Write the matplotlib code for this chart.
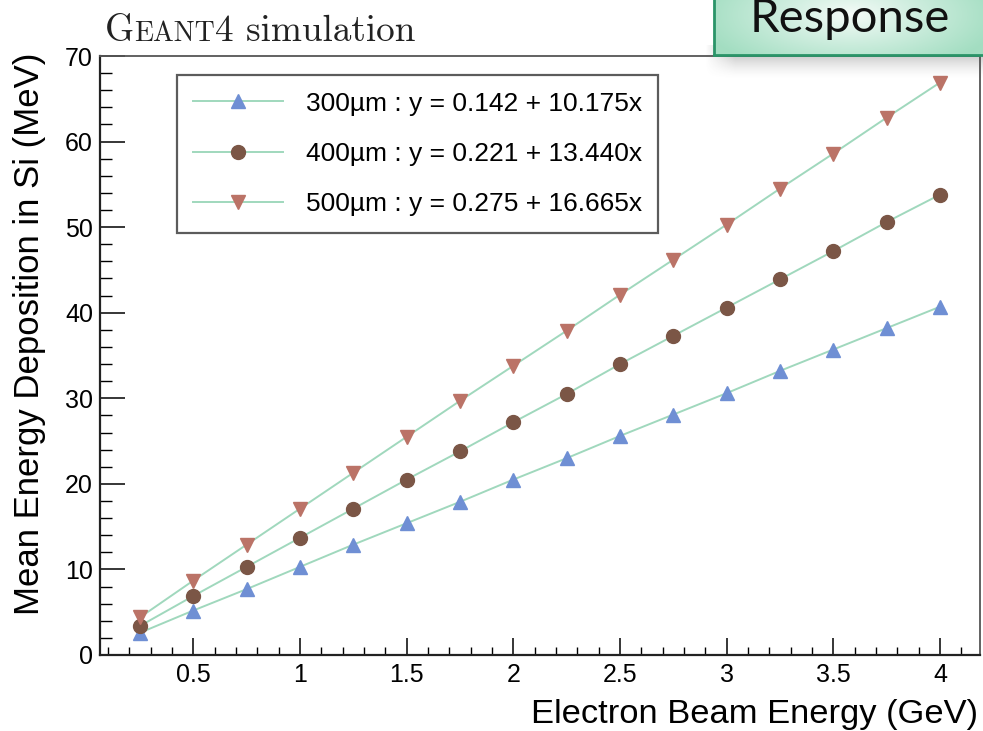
import numpy as np
import matplotlib
matplotlib.use("Agg")
import matplotlib.pyplot as plt
from matplotlib.ticker import MultipleLocator, FixedLocator
from matplotlib.offsetbox import TextArea, HPacker, AnchoredOffsetbox

# ---------------- data ----------------
beam_energy = [0.25, 0.5, 0.75, 1.0, 1.25, 1.5, 1.75, 2.0,
               2.25, 2.5, 2.75, 3.0, 3.25, 3.5, 3.75, 4.0]
dep_300 = [2.6, 5.2, 7.7, 10.3, 12.9, 15.4, 17.9, 20.5,
           23.0, 25.6, 28.1, 30.6, 33.2, 35.7, 38.2, 40.7]
dep_400 = [3.4, 6.9, 10.3, 13.7, 17.1, 20.5, 23.8, 27.2,
           30.5, 34.0, 37.3, 40.6, 43.9, 47.2, 50.6, 53.8]
dep_500 = [4.4, 8.7, 12.9, 17.1, 21.3, 25.5, 29.7, 33.8,
           37.9, 42.1, 46.2, 50.3, 54.5, 58.6, 62.8, 66.9]
labels = ["300µm : y = 0.142 + 10.175x",
          "400µm : y = 0.221 + 13.440x",
          "500µm : y = 0.275 + 16.665x"]
x_ticks = [0.5, 1, 1.5, 2, 2.5, 3, 3.5, 4]
x_ticklabels = ["0.5", "1", "1.5", "2", "2.5", "3", "3.5", "4"]
y_ticks = [0, 10, 20, 30, 40, 50, 60, 70]

# ---------------- style ----------------
plt.rcParams['font.family'] = ['Liberation Sans', 'DejaVu Sans']
W, H = 983, 731
fig = plt.figure(figsize=(W / 100, H / 100), dpi=100)

def fx(px):
    return px / W

def fy(py):
    return 1 - py / H

ax = fig.add_axes([fx(100), fy(655), fx(880), 599 / H])
ax.set_xlim(0.0625, 4.1875)
ax.set_ylim(0, 70)

line_c = "#a0d8bd"
series = [
    (dep_300, "^", "#6f8fd4", 10.5),
    (dep_400, "o", "#7b5646", 10),
    (dep_500, "v", "#bb7367", 10.5),
]
for (vals, mk, col, ms), lab in zip(series, labels):
    ax.plot(beam_energy, vals, color=line_c, lw=1.4, marker=mk, ms=ms,
            mfc=col, mec=col, label=lab, zorder=3)

ax.xaxis.set_major_locator(FixedLocator(x_ticks))
ax.set_xticklabels(x_ticklabels)
ax.xaxis.set_minor_locator(MultipleLocator(0.1))
ax.yaxis.set_major_locator(FixedLocator(y_ticks))
ax.yaxis.set_minor_locator(MultipleLocator(2))
ax.tick_params(axis='x', which='major', direction='in', length=12, width=1.1,
               labelsize=18, pad=6, top=False)
ax.tick_params(axis='x', which='minor', direction='in', length=5.8, width=1.0,
               top=False)
ax.tick_params(axis='y', which='major', direction='in', length=18, width=1.1,
               labelsize=18, pad=5, right=False)
ax.tick_params(axis='y', which='minor', direction='in', length=8.6, width=1.0,
               right=False)
for s in ['left', 'bottom']:
    ax.spines[s].set_linewidth(1.6)
    ax.spines[s].set_color('#222222')
for s in ['top', 'right']:
    ax.spines[s].set_linewidth(1.3)
    ax.spines[s].set_color('#555555')

leg = ax.legend(loc='upper left', bbox_to_anchor=(0.0875, 0.968),
                fontsize=19, frameon=True, fancybox=False, borderpad=0.62,
                labelspacing=1.0, handlelength=3.4, handletextpad=0.85,
                borderaxespad=0, numpoints=1)
leg.get_frame().set_edgecolor('#333333')
leg.get_frame().set_linewidth(1.6)

# axis titles
fig.text(fx(978), fy(723), "Electron Beam Energy (GeV)", ha='right',
         va='baseline', fontsize=24.8)
fig.text(fx(30), fy(53), "Mean Energy Deposition in Si (MeV)", rotation=90,
         ha='center', va='top', fontsize=25)

# title "GEANT4 simulation" in small caps style
tp_big = dict(fontfamily='cmr10', fontsize=26.8, color='#222222')
tp_small = dict(fontfamily='cmr10', fontsize=20, color='#222222')
pack = HPacker(children=[TextArea("G", textprops=tp_big),
                         TextArea("EANT", textprops=tp_small),
                         TextArea("4 simulation", textprops=tp_big)],
               align='baseline', pad=0, sep=0)
ab = AnchoredOffsetbox(loc='lower left', child=pack, pad=0, frameon=False,
                       bbox_to_anchor=(fx(105), fy(48)),
                       bbox_transform=fig.transFigure, borderpad=0)
fig.add_artist(ab)

# "Response" box with shadow (top right)
sh_ax = fig.add_axes([fx(700), fy(85), fx(290), 40 / H], zorder=5)
sh_ax.set_axis_off()
ny, nx = 40, 290
yy, xx = np.mgrid[0:ny, 0:nx]
alpha = np.clip((yy - 5) / 30.0, 0, 1) ** 1.6 * 0.45
alpha *= np.clip((xx - 5) / 30.0, 0, 1)
img = np.zeros((ny, nx, 4))
img[..., :3] = 0.35
img[..., 3] = alpha
sh_ax.imshow(img, extent=[0, 1, 0, 1], aspect='auto', origin='lower')

bx = fig.add_axes([fx(714), fy(55), fx(290), 60 / H], zorder=6)
by, bxn = 60, 290
yy, xx = np.mgrid[0:by, 0:bxn]
cx, cy = 135.0, 40.0
t = np.sqrt(((xx - cx) / 150.0) ** 2 + ((yy - cy) / 60.0) ** 2)
t = np.clip(t, 0, 1) ** 0.9
green = np.array([0.64, 0.87, 0.76])
white = np.array([0.97, 0.99, 0.98])
grad = white[None, None, :] * (1 - t[..., None]) + green[None, None, :] * t[..., None]
bx.imshow(grad, extent=[0, 1, 0, 1], aspect='auto', origin='lower')
bx.set_xticks([])
bx.set_yticks([])
for s in bx.spines.values():
    s.set_color('#2a9468')
    s.set_linewidth(2.0)
bx.text((850 - 714) / 290, (55 - 32) / 60, "Response",
        transform=bx.transAxes, ha='center', va='baseline',
        fontfamily='Lato', fontsize=34, color='#111111')

fig.savefig("out.png", dpi=100)
